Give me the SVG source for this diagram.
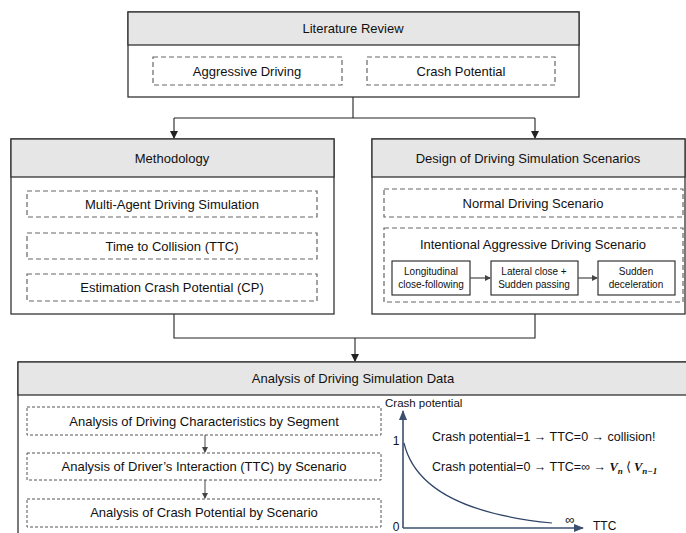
<svg xmlns="http://www.w3.org/2000/svg" width="686" height="533" viewBox="0 0 686 533">
<style>
text{font-family:"Liberation Sans",Arial,sans-serif;fill:#111;text-anchor:middle}
.box{fill:#fff;stroke:#333;stroke-width:1.3}
.hdr{fill:#e6e6e6;stroke:#333;stroke-width:1.3}
.dash{fill:#fff;stroke:#666;stroke-width:1.2;stroke-dasharray:5,3}
.dash2{fill:#fff;stroke:#555;stroke-width:1;stroke-dasharray:3,2}
.sm{fill:#fff;stroke:#222;stroke-width:1.1}
.t13{font-size:13px}
.t10{font-size:10px}
.con{fill:none;stroke:#222;stroke-width:1.1}
.ax{fill:none;stroke:#3b4f6e;stroke-width:1.6}
.v{font-family:"Liberation Serif",serif;font-style:italic;font-weight:bold}
</style>
<defs>
<marker id="ah" markerWidth="8" markerHeight="8" refX="7" refY="4" orient="auto" markerUnits="userSpaceOnUse"><path d="M0,0 L8,4 L0,8 z" fill="#222"/></marker>
<marker id="ah2" markerWidth="10" markerHeight="10" refX="9" refY="5" orient="auto" markerUnits="userSpaceOnUse"><path d="M0,1 L10,5 L0,9 z" fill="#3b4f6e"/></marker>
<marker id="ahs" markerWidth="6" markerHeight="6" refX="5" refY="3" orient="auto" markerUnits="userSpaceOnUse"><path d="M0,0 L6,3 L0,6 z" fill="#444"/></marker>
</defs>

<g id="connectors">
<path class="con" d="M353,97 V118 M174,118 H535"/>
<path class="con" d="M174,118 V138" marker-end="url(#ah)"/>
<path class="con" d="M535,118 V138" marker-end="url(#ah)"/>
<path class="con" d="M174,314 V338 H535 V314"/>
<path class="con" d="M355,338 V361" marker-end="url(#ah)"/>
</g>

<g id="literature-review">
<rect class="box" x="128" y="12" width="451" height="85"/>
<rect class="hdr" x="128" y="12" width="451" height="33"/>
<text class="t13" x="353" y="33">Literature Review</text>
</g>
<g id="aggressive-driving">
<rect class="dash" x="153" y="57" width="189" height="28"/>
<text class="t13" x="247" y="76">Aggressive Driving</text>
</g>
<g id="crash-potential">
<rect class="dash" x="367" y="57" width="188" height="28"/>
<text class="t13" x="461" y="76">Crash Potential</text>
</g>

<g id="methodology">
<rect class="box" x="11" y="139" width="323" height="175"/>
<rect class="hdr" x="11" y="139" width="323" height="38"/>
<text class="t13" x="172" y="163">Methodology</text>
</g>
<g id="multi-agent">
<rect class="dash" x="27" y="191" width="290" height="26"/>
<text class="t13" x="172" y="209">Multi-Agent Driving Simulation</text>
</g>
<g id="ttc">
<rect class="dash" x="27" y="233" width="290" height="26"/>
<text class="t13" x="172" y="251">Time to Collision (TTC)</text>
</g>
<g id="estimation-cp">
<rect class="dash" x="27" y="274" width="290" height="27"/>
<text class="t13" x="172" y="292">Estimation Crash Potential (CP)</text>
</g>

<g id="design">
<rect class="box" x="372" y="139" width="313" height="175"/>
<rect class="hdr" x="372" y="139" width="313" height="38"/>
<text class="t13" x="528" y="163">Design of Driving Simulation Scenarios</text>
</g>
<g id="normal-driving">
<rect class="dash" x="384" y="189" width="299" height="28"/>
<text class="t13" x="533" y="208">Normal Driving Scenario</text>
</g>
<g id="intentional-aggressive">
<rect class="dash" x="384" y="228" width="299" height="74"/>
<text class="t13" x="533" y="249">Intentional Aggressive Driving Scenario</text>
</g>
<g id="longitudinal">
<rect class="sm" x="392" y="261" width="78" height="34"/>
<text class="t10" x="431" y="275">Longitudinal</text>
<text class="t10" x="431" y="288">close-following</text>
</g>
<g id="lateral">
<rect class="sm" x="491" y="261" width="87" height="34"/>
<text class="t10" x="534" y="275">Lateral close +</text>
<text class="t10" x="534" y="288">Sudden passing</text>
</g>
<g id="sudden-decel">
<rect class="sm" x="598" y="261" width="77" height="34"/>
<text class="t10" x="636" y="275">Sudden</text>
<text class="t10" x="636" y="288">deceleration</text>
</g>
<g id="scenario-connectors">
<path d="M470,278 H490" stroke="#555" stroke-width="1.3" marker-end="url(#ahs)"/>
<path d="M578,278 H597" stroke="#555" stroke-width="1.3" marker-end="url(#ahs)"/>
</g>

<g id="analysis">
<rect class="box" x="18" y="362" width="670" height="180"/>
<rect class="hdr" x="18" y="362" width="670" height="33"/>
<text class="t13" x="353" y="383">Analysis of Driving Simulation Data</text>
</g>
<g id="analysis-segment">
<rect class="dash2" x="27" y="407" width="354" height="28"/>
<text class="t13" x="204" y="426">Analysis of Driving Characteristics by Segment</text>
</g>
<g id="analysis-interaction">
<rect class="dash2" x="27" y="453" width="354" height="27"/>
<text class="t13" x="204" y="471">Analysis of Driver’s Interaction (TTC) by Scenario</text>
</g>
<g id="analysis-cp">
<rect class="dash2" x="27" y="499" width="354" height="28"/>
<text class="t13" x="204" y="517">Analysis of Crash Potential by Scenario</text>
</g>
<g id="analysis-connectors">
<path d="M205,435 V452" stroke="#444" stroke-width="1" marker-end="url(#ahs)"/>
<path d="M205,480 V498" stroke="#444" stroke-width="1" marker-end="url(#ahs)"/>
</g>

<g id="graph">
<path class="ax" d="M403,528 V411" marker-end="url(#ah2)"/>
<path class="ax" d="M403,528 H583" marker-end="url(#ah2)"/>
<path d="M404,443 C415,490 470,515 552,523" fill="none" stroke="#2e4466" stroke-width="1.2"/>
<text x="385" y="407" style="font-size:11.5px;text-anchor:start">Crash potential</text>
<text x="396" y="445" style="font-size:12px">1</text>
<text x="396" y="531" style="font-size:12px">0</text>
<text x="570" y="524" style="font-size:13px">∞</text>
<text x="593" y="530" style="font-size:12px;text-anchor:start">TTC</text>
<text x="432" y="441" style="font-size:12.5px;text-anchor:start">Crash potential=1 → TTC=0 → collision!</text>
<text x="432" y="471" style="font-size:12.5px;text-anchor:start">Crash potential=0 → TTC=∞ → <tspan class="v">V</tspan><tspan class="v" font-size="9" dy="3">n</tspan><tspan dy="-3" dx="3">⟨</tspan><tspan class="v" dx="3">V</tspan><tspan class="v" font-size="9" dy="3">n−1</tspan></text>
</g>
</svg>
